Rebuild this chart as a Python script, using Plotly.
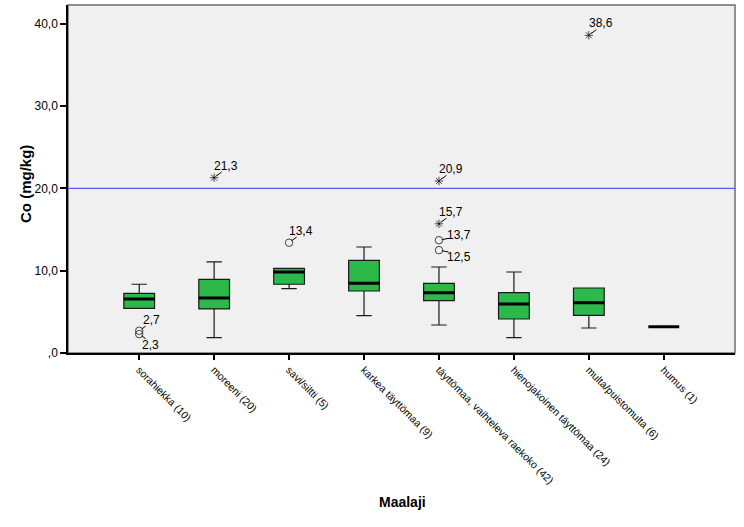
import plotly.graph_objects as go

# ---------------- data ----------------
categories = [
    "sorahiekka (10)",
    "moreeni (20)",
    "savi/siltti (5)",
    "karkea täyttömaa (9)",
    "täyttömaa, vaihteleva raekoko (42)",
    "hienojakoinen täyttömaa (24)",
    "multa/puistomulta (6)",
    "humus (1)",
]
q1 = [5.43, 5.35, 8.35, 7.53, 6.36, 4.13, 4.58, 3.2]
median = [6.56, 6.68, 9.84, 8.46, 7.33, 5.95, 6.11, 3.2]
q3 = [7.25, 8.95, 10.29, 11.26, 8.46, 7.33, 7.90, 3.2]
lower_whisker = [5.43, 1.86, 7.82, 4.54, 3.40, 1.86, 3.04, 3.2]
upper_whisker = [8.35, 11.06, 10.29, 12.88, 10.45, 9.84, 7.90, 3.2]

outlier_category = [
    "sorahiekka (10)", "sorahiekka (10)", "moreeni (20)", "savi/siltti (5)",
    "täyttömaa, vaihteleva raekoko (42)", "täyttömaa, vaihteleva raekoko (42)",
    "täyttömaa, vaihteleva raekoko (42)", "täyttömaa, vaihteleva raekoko (42)",
    "multa/puistomulta (6)",
]
outlier_value = [2.7, 2.3, 21.3, 13.4, 20.9, 15.7, 13.7, 12.5, 38.6]
outlier_extreme = [False, False, True, False, True, True, False, False, True]

reference_value = 20.0

y_tick_values = [0, 10, 20, 30, 40]
y_tick_labels = [",0", "10,0", "20,0", "30,0", "40,0"]

# ---------------- styles (pixel offsets of labels / leader lines) ----------------
label_dx = [12, 11, 12, 12, 12, 12, 20, 20, 12]
label_dy = [-11, 11, -12, -12, -12, -12, -5, 7, -12]
leader_dx = [7, 7, 8, 8, 8, 8, 10, 10, 8]
leader_dy = [-5, 5, -6, -6, -6, -6, -2, 2, -6]
GREEN = "#2db84b"
FONT = "Liberation Sans, Arial, sans-serif"

fig = go.Figure()

for i, c in enumerate(categories):
    fig.add_trace(go.Box(
        x=[c], q1=[q1[i]], median=[median[i]], q3=[q3[i]],
        lowerfence=[lower_whisker[i]], upperfence=[upper_whisker[i]],
        width=0.41, whiskerwidth=0.5, fillcolor=GREEN,
        line=dict(color="#1a1a1a", width=1.2),
        boxpoints=False, showlegend=False, hoverinfo="skip",
    ))
    # thick median line
    fig.add_trace(go.Box(
        x=[c], q1=[median[i]], median=[median[i]], q3=[median[i]],
        lowerfence=[median[i]], upperfence=[median[i]],
        width=0.41, whiskerwidth=0, fillcolor="rgba(0,0,0,0)",
        line=dict(color="black", width=3),
        boxpoints=False, showlegend=False, hoverinfo="skip",
    ))

fig.add_trace(go.Scatter(
    x=outlier_category, y=outlier_value, mode="markers",
    marker=dict(
        symbol=["asterisk-open" if e else "circle-open" for e in outlier_extreme],
        size=[7 if e else 7.5 for e in outlier_extreme],
        color="black", line=dict(color="black", width=1),
    ),
    showlegend=False, hoverinfo="skip",
))

def fmt(v):
    return f"{v:.1f}".replace(".", ",")

annotations = []
for c, v, dx, dy, lx, ly in zip(outlier_category, outlier_value,
                                label_dx, label_dy, leader_dx, leader_dy):
    # leader line
    annotations.append(dict(
        x=c, y=v, xref="x", yref="y", text=" ",
        showarrow=True, arrowhead=0, arrowwidth=1, arrowcolor="black",
        ax=lx, ay=ly, standoff=3, borderpad=0,
        font=dict(family=FONT, size=1, color="black"),
    ))
    # label
    annotations.append(dict(
        x=c, y=v, xref="x", yref="y", text=fmt(v), showarrow=False,
        xanchor="center", yanchor="middle", xshift=dx, yshift=-dy,
        font=dict(family=FONT, size=12, color="black"),
    ))

annotations.append(dict(
    text="<b>Co (mg/kg)</b>", xref="paper", yref="paper",
    x=(25 - 68) / 667, y=(353 - 184) / 348, textangle=-90, showarrow=False,
    xanchor="center", yanchor="middle",
    font=dict(family=FONT, size=15, color="black"),
))
annotations.append(dict(
    text="<b>Maalaji</b>", xref="paper", yref="paper",
    x=(402 - 68) / 667, y=(353 - 502) / 348, showarrow=False,
    xanchor="center", yanchor="middle",
    font=dict(family=FONT, size=14, color="black"),
))

fig.update_layout(
    width=744, height=527,
    margin=dict(l=68, r=9, t=5, b=174),
    paper_bgcolor="white", plot_bgcolor="#f0f0f0",
    boxmode="overlay",
    font=dict(family=FONT, size=12, color="black"),
    annotations=annotations,
    shapes=[
        dict(type="rect", xref="paper", yref="paper", x0=0, x1=1, y0=0, y1=1,
             line=dict(color="#6e6e6e", width=1.5), layer="below"),
        dict(type="line", xref="paper", yref="y", x0=0, x1=1,
             y0=reference_value, y1=reference_value,
             line=dict(color="#5a5aff", width=1.2), layer="below"),
    ],
    xaxis=dict(
        type="category", categoryorder="array", categoryarray=categories,
        range=[-0.95, len(categories) - 0.05],
        tickangle=45, ticks="outside", ticklen=5, tickcolor="black", tickwidth=1.5,
        showline=True, linecolor="black", linewidth=1.5, showgrid=False,
        tickfont=dict(family=FONT, size=10.5, color="black"),
    ),
    yaxis=dict(
        range=[0, 42.28], tickvals=y_tick_values, ticktext=y_tick_labels,
        ticks="outside", ticklen=6, tickcolor="black", tickwidth=1.5,
        showline=True, linecolor="black", linewidth=1.5,
        showgrid=False, zeroline=False,
        tickfont=dict(family=FONT, size=12, color="black"),
    ),
)

fig.write_html("out.html")
